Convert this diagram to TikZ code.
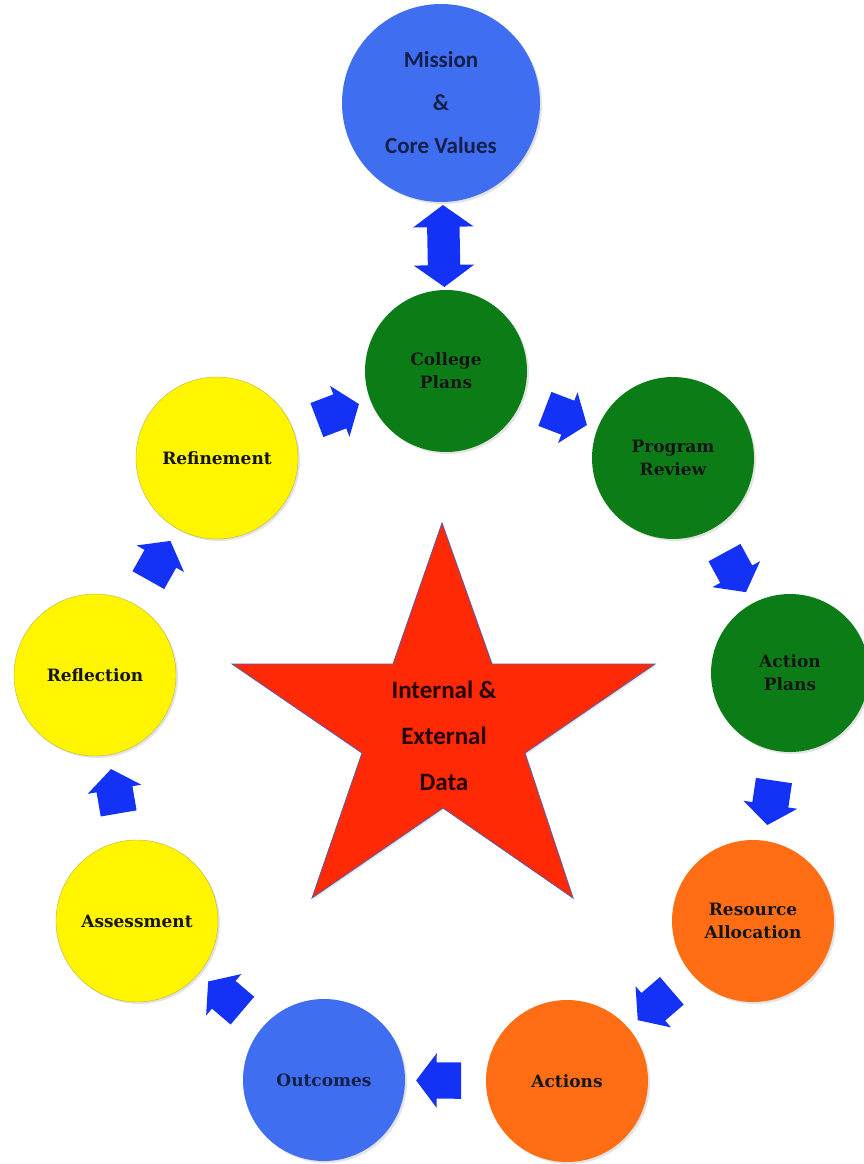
\documentclass[tikz,border=0pt]{standalone}
\usepackage{fontspec}
\usepackage{tikz}
\usetikzlibrary{shapes.arrows,shadows}
\newfontfamily\circfont{DejaVu Serif}
\newfontfamily\calfont{Carlito}
\definecolor{misblue}{HTML}{3F6FF0}
\definecolor{plangreen}{HTML}{0C7D16}
\definecolor{refyellow}{HTML}{FFF500}
\definecolor{resorange}{HTML}{FF6E14}
\definecolor{starred}{HTML}{FF2A05}
\definecolor{arrblue}{HTML}{1432F5}
\definecolor{txtdark}{HTML}{161616}
\definecolor{txtnavy}{HTML}{14204A}

\begin{document}
\begin{tikzpicture}[x=1pt, y=-1pt,
  circ/.style={circle, minimum size=162pt, inner sep=0pt, align=center, text=txtdark,
    font=\circfont\bfseries\fontsize{17}{23}\selectfont,
    drop shadow={shadow xshift=2pt, shadow yshift=-2pt, opacity=0.22}},
  blockarrow/.style={shape=single arrow, fill=arrblue, sloped, allow upside down, inner sep=0pt,
    text height=36pt, text depth=0pt, minimum height=45pt,
    single arrow head extend=9pt, single arrow tip angle=106},
  twinarrow/.style={shape=double arrow, fill=arrblue, sloped, allow upside down, inner sep=0pt,
    text height=32pt, text depth=0pt, minimum height=82pt,
    double arrow head extend=14pt, double arrow tip angle=108}]
\useasboundingbox (0,0) rectangle (864,1164);
\node[circ, fill=misblue, minimum size=198pt, text=txtnavy, font=\calfont\bfseries\fontsize{23}{43}\selectfont] (C0) at (441,103) {Mission\\\&\\Core Values};
\node[circ, fill=plangreen] (C1) at (446,371) {College\\Plans};
\node[circ, fill=plangreen] (C2) at (673,458) {Program\\Review};
\node[circ, fill=plangreen, minimum size=158pt] (C3) at (790,673) {Action\\Plans};
\node[circ, fill=resorange] (C4) at (753,921) {Resource\\Allocation};
\node[circ, fill=resorange] (C5) at (567,1081) {Actions};
\node[circ, fill=misblue, text=txtnavy] (C6) at (324,1080) {Outcomes};
\node[circ, fill=refyellow, draw=yellow!70!black, line width=0.4pt] (C7) at (137,921) {Assessment};
\node[circ, fill=refyellow, draw=yellow!70!black, line width=0.4pt] (C8) at (95,675) {Reflection};
\node[circ, fill=refyellow, draw=yellow!70!black, line width=0.4pt] (C9) at (217,458) {Refinement};
\draw[fill=starred, draw=blue!30!gray, line width=0.8pt, drop shadow={shadow xshift=1.5pt, shadow yshift=-1.5pt, opacity=0.2}]
  (442,523) -- (492,664) -- (655,664) -- (525,753) -- (573,898) -- (443,808)
  -- (312,898) -- (362,753) -- (232,664) -- (393,664) -- cycle;
\node[align=center, text=black!85!red, font=\calfont\bfseries\fontsize{25}{46}\selectfont] (S0) at (444,736) {Internal \&\\External\\Data};
\path (C0) -- node[twinarrow] (A0) {} (C1);
\path (C1) -- node[blockarrow] (A1) {} (C2);
\path (C2) -- node[blockarrow] (A2) {} (C3);
\path (C3) -- node[blockarrow] (A3) {} (C4);
\path (C4) -- node[blockarrow] (A4) {} (C5);
\path (C5) -- node[blockarrow] (A5) {} (C6);
\path (C6) -- node[blockarrow] (A6) {} (C7);
\path (C7) -- node[blockarrow] (A7) {} (C8);
\path (C8) -- node[blockarrow] (A8) {} (C9);
\path (C9) -- node[blockarrow] (A9) {} (C1);
\end{tikzpicture}
\end{document}
